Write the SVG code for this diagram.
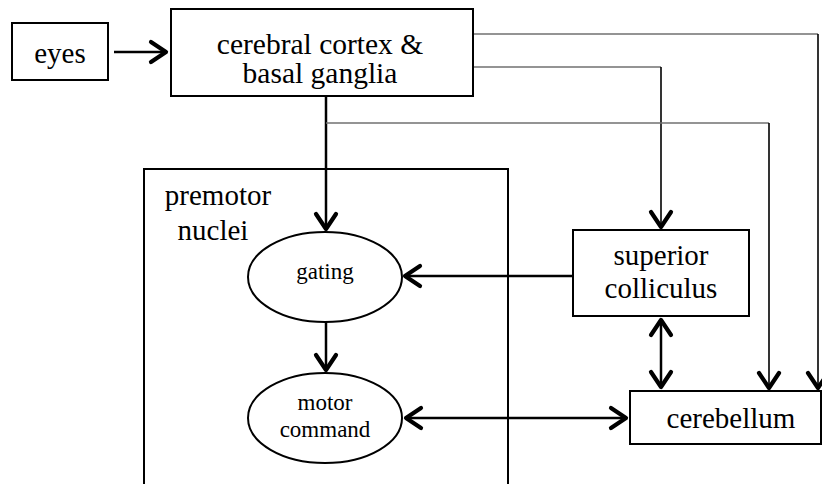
<svg xmlns="http://www.w3.org/2000/svg" width="822" height="484" viewBox="0 0 822 484">
<style>
.box{fill:#fff;stroke:#000;stroke-width:2}
text{font-family:"Liberation Serif","DejaVu Serif","Times New Roman",serif;fill:#000;text-anchor:middle}
.t{font-size:29px}
.c{font-size:29.5px}
.s{font-size:23px}
.thick{fill:none;stroke:#000;stroke-width:2.5}
.thin{fill:none;stroke:#000;stroke-width:1.6}
.gray{fill:none;stroke:#707070;stroke-width:1.4}
</style>
<defs>
<marker id="ah" markerUnits="userSpaceOnUse" viewBox="-20 -14 24 28" markerWidth="24" markerHeight="28" refX="0" refY="0" orient="auto-start-reverse">
<path d="M-15,-10 L0,0 L-15,10" fill="none" stroke="#000" stroke-width="4.2" stroke-linecap="round" stroke-linejoin="round"/>
</marker>
</defs>
<rect width="822" height="484" fill="#fff"/>
<g id="premotor">
<path d="M144,484 V169 H508 V484" fill="none" stroke="#000" stroke-width="2"/>
<text class="t" x="218" y="205">premotor</text>
<text class="t" x="213" y="240">nuclei</text>
</g>
<g id="connectors">
<line class="thick" x1="114" y1="52" x2="166" y2="52" marker-end="url(#ah)"/>
<line class="thick" x1="326" y1="96" x2="326" y2="229" marker-end="url(#ah)"/>
<line class="thick" x1="326" y1="322" x2="326" y2="370" marker-end="url(#ah)"/>
<line class="thick" x1="573" y1="276" x2="405" y2="276" marker-end="url(#ah)"/>
<line class="thick" x1="661" y1="320" x2="661" y2="387" marker-start="url(#ah)" marker-end="url(#ah)"/>
<line class="thick" x1="406" y1="418" x2="626" y2="418" marker-start="url(#ah)" marker-end="url(#ah)"/>
<line class="gray" x1="473" y1="34" x2="818" y2="34"/>
<line class="thin" x1="818" y1="34" x2="818" y2="388" marker-end="url(#ah)"/>
<line class="gray" x1="473" y1="67" x2="661" y2="67"/>
<line class="thin" x1="661" y1="67" x2="661" y2="227" marker-end="url(#ah)"/>
<line class="gray" x1="326" y1="123" x2="769" y2="123"/>
<line class="thin" x1="769" y1="123" x2="769" y2="388" marker-end="url(#ah)"/>
</g>
<g id="eyes">
<rect class="box" x="12" y="23" width="96" height="57"/>
<text class="t" x="60" y="63">eyes</text>
</g>
<g id="cortex">
<rect class="box" x="171" y="9" width="302" height="87"/>
<text class="c" x="320" y="54">cerebral cortex &amp;</text>
<text class="c" x="320" y="83">basal ganglia</text>
</g>
<g id="sc">
<rect class="box" x="573" y="230" width="176" height="86"/>
<text class="t" x="661" y="265">superior</text>
<text class="t" x="661" y="298">colliculus</text>
</g>
<g id="cerebellum">
<rect class="box" x="630" y="391" width="191" height="53"/>
<text class="t" x="731" y="428">cerebellum</text>
</g>
<g id="gating">
<ellipse cx="325" cy="277" rx="77" ry="45" fill="#fff" stroke="#000" stroke-width="2"/>
<text class="s" x="325" y="279">gating</text>
</g>
<g id="motor">
<ellipse cx="325" cy="418" rx="77" ry="45" fill="#fff" stroke="#000" stroke-width="2"/>
<text class="s" x="325" y="410">motor</text>
<text class="s" x="325" y="437">command</text>
</g>
</svg>
